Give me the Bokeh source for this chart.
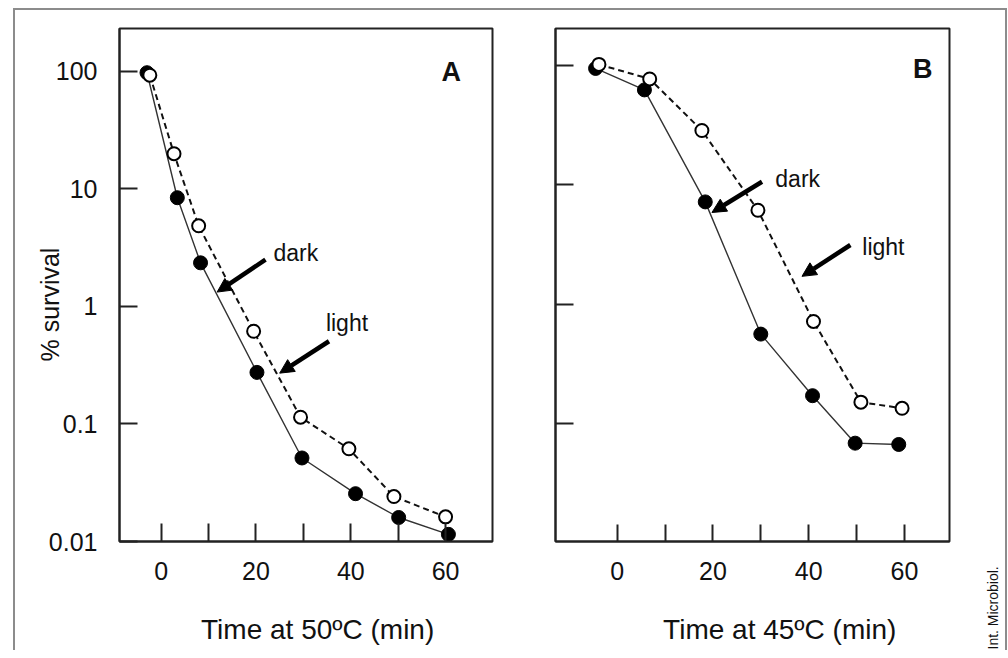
import math
from bokeh.plotting import figure
from bokeh.layouts import row
from bokeh.models import (Range1d, FixedTicker, CustomJSTickFormatter, Arrow,
                          NormalHead, Label, Title)
from bokeh.embed import file_html
from bokeh.resources import INLINE

FONT = "Liberation Sans"
NB = "\u00a0"

# ---------------- data ----------------
# Panel A: 50 ºC
a_dark_t = [-3.0, 3.4, 8.3, 20.2, 29.7, 41.0, 50.1, 60.6]
a_dark_s = [96.7, 8.37, 2.34, 0.274, 0.0513, 0.0255, 0.0160, 0.0115]
a_light_t = [-2.4, 2.7, 7.9, 19.5, 29.4, 39.6, 49.1, 60.0]
a_light_s = [92.1, 19.8, 4.83, 0.613, 0.114, 0.0614, 0.0241, 0.0162]

# Panel B: 45 ºC
b_dark_t = [-4.5, 5.7, 18.4, 30.0, 40.8, 49.7, 58.8]
b_dark_s = [94.4, 62.4, 7.19, 0.561, 0.171, 0.0684, 0.0667]
b_light_t = [-3.8, 6.8, 17.7, 29.4, 41.0, 50.9, 59.5]
b_light_s = [102.0, 77.1, 28.5, 6.12, 0.716, 0.151, 0.134]

x_major = [0, 20, 40, 60]
x_minor = [10, 30, 50]
y_ticks_a = [0.01, 0.1, 1, 10, 100]
y_ticks_b = [0.1, 1, 10, 100]

# annotation positions (data units)
a_arrows = [(22.0, 2.49, 11.8, 1.32), (35.4, 0.504, 25.0, 0.270)]
b_arrows = [(30.25, 10.6, 19.8, 5.86), (48.7, 3.13, 38.6, 1.71)]
a_texts = [("dark", 28.4, 2.86), ("light", 39.2, 0.727)]
b_texts = [("dark", 37.7, 11.2), ("light", 55.6, 3.04)]

AX = "#222222"
TXT = "#111111"
BORDER = "#8c8c8c"


def make_panel(xr, yr, left, frame_w, right, yticks, show_ylabels, xlabel,
               xtick_len):
    p = figure(width=left + frame_w + right, height=640,
               x_range=Range1d(*xr), y_range=Range1d(*yr), y_axis_type="log",
               output_backend="svg", toolbar_location=None, title=None,
               min_border_left=left, min_border_right=right,
               min_border_top=18, min_border_bottom=109)
    p.xgrid.visible = False
    p.ygrid.visible = False
    p.outline_line_color = AX
    p.outline_line_width = 2
    p.background_fill_color = "white"
    p.border_fill_color = None

    xa = p.xaxis[0]
    xa.ticker = FixedTicker(ticks=x_major, minor_ticks=x_minor)
    xa.axis_line_color = AX
    xa.axis_line_width = 2
    xa.major_tick_in = xtick_len
    xa.major_tick_out = 0
    xa.minor_tick_in = xtick_len
    xa.minor_tick_out = 0
    xa.major_tick_line_color = AX
    xa.minor_tick_line_color = AX
    xa.major_tick_line_width = 2
    xa.minor_tick_line_width = 2
    xa.major_label_text_font = FONT
    xa.major_label_text_font_size = "25px"
    xa.major_label_text_color = TXT
    xa.major_label_standoff = 20
    xa.axis_label = xlabel
    xa.axis_label_text_font = FONT
    xa.axis_label_text_font_size = "28px"
    xa.axis_label_text_font_style = "normal"
    xa.axis_label_text_color = TXT
    xa.axis_label_standoff = 31

    ya = p.yaxis[0]
    ya.ticker = FixedTicker(ticks=yticks, minor_ticks=[])
    ya.axis_line_color = AX
    ya.axis_line_width = 2
    ya.major_tick_in = 18
    ya.major_tick_out = 0
    ya.minor_tick_line_color = None
    ya.major_tick_line_color = AX
    ya.major_tick_line_width = 2
    ya.major_label_text_font = FONT
    ya.major_label_text_font_size = "25px"
    ya.major_label_text_color = TXT if show_ylabels else None
    ya.major_label_standoff = 22
    ya.formatter = CustomJSTickFormatter(code="return String(tick);")
    return p


def add_series(p, dt, ds, lt, ls):
    p.line(dt, ds, line_color="#333333", line_width=1.4)
    p.line(lt, ls, line_color=TXT, line_width=2, line_dash="6 4")
    p.scatter(dt, ds, size=14, fill_color="black", line_color="black")
    p.scatter(lt, ls, size=13, fill_color="white", line_color="black",
              line_width=2)


def add_arrows(p, arrows):
    for xs, ys, xe, ye in arrows:
        p.add_layout(Arrow(end=NormalHead(size=14, fill_color="black",
                                          line_color="black", line_width=1),
                           x_start=xs, y_start=ys, x_end=xe, y_end=ye,
                           line_width=4.5, line_color="black"))


def add_text(p, txt, x, y, size, style="normal", angle=0.0, align="center",
             baseline="alphabetic"):
    p.add_layout(Label(x=x, y=y, text=txt, text_font=FONT,
                       text_font_size=size, text_font_style=style,
                       text_color=TXT, text_align=align,
                       text_baseline=baseline, angle=angle))


# ---------------- panel A ----------------
pA = make_panel((-8.8, 69.9), (0.01, 229.8), 104, 373, 8, y_ticks_a, True,
                NB * 3 + "Time at 50ºC (min)", 18)
add_series(pA, a_dark_t, a_dark_s, a_light_t, a_light_s)
add_arrows(pA, a_arrows)
for t, x, y in a_texts:
    add_text(pA, t, x, y, "23px")
add_text(pA, "A", 61.2, 99.0, "27px", style="bold")
pA.add_layout(Title(text="% survival", align="left", offset=180,
                    text_font=FONT, text_font_size="25px",
                    text_font_style="normal", text_color=TXT,
                    standoff=-37), "left")

# ---------------- panel B ----------------
pB = make_panel((-12.87, 69.4), (0.01026, 204.0), 55, 394, 4, y_ticks_b, False,
                NB * 7 + "Time at 45ºC (min)", 17)
add_series(pB, b_dark_t, b_dark_s, b_light_t, b_light_s)
add_arrows(pB, b_arrows)
for t, x, y in b_texts:
    add_text(pB, t, x, y, "23px")
add_text(pB, "B", 63.8, 92.6, "27px", style="bold")

# ---------------- credit strip ----------------
pC = figure(width=48, height=640, x_range=Range1d(0, 48), y_range=Range1d(0, 640),
            output_backend="svg", toolbar_location=None, title=None, min_border=0)
pC.frame_align = False
pC.axis.visible = False
pC.grid.visible = False
pC.outline_line_color = None
pC.background_fill_color = None
pC.border_fill_color = None
pC.add_layout(Label(x=39, y=1, text="Int. Microbiol.", text_font=FONT,
                    text_font_size="14px", text_color=TXT, text_align="left",
                    text_baseline="middle", angle=math.pi / 2))

layout = row(pA, pB, pC, margin=(8, 0, 0, 13),
             styles={"border-left": "2px solid " + BORDER,
                     "border-top": "2px solid " + BORDER,
                     "border-right": "2px solid " + BORDER,
                     "box-sizing": "content-box",
                     "width": "990px"})

open("out.html", "w").write(file_html(layout, INLINE))
